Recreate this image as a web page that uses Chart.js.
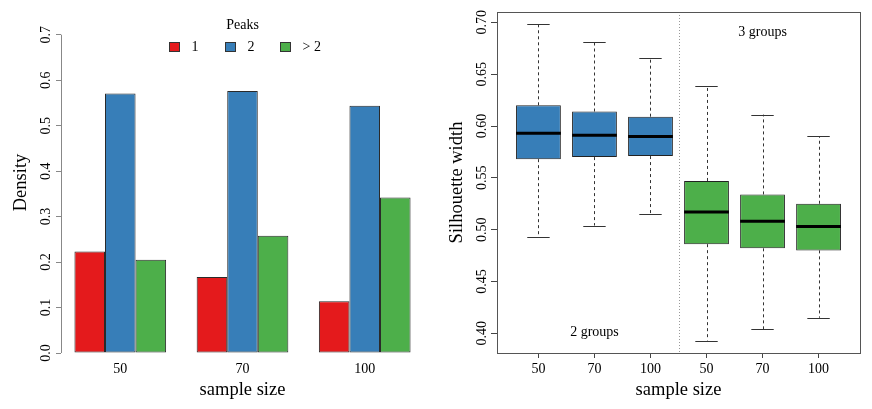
<!DOCTYPE html>
<html>
<head>
<meta charset="utf-8">
<script src="https://cdn.jsdelivr.net/npm/chart.js@4.4.1/dist/chart.umd.min.js"></script>
<style>
  body { margin: 0; background: #fff; }
  #wrap { position: relative; width: 872px; height: 409px; }
  canvas { position: absolute; top: 0; }
  #peaksChart { left: 0; }
  #silChart { left: 436px; }
</style>
</head>
<body>
<div id="wrap">
  <canvas id="peaksChart" width="436" height="409"></canvas>
  <canvas id="silChart" width="436" height="409"></canvas>
</div>
<script>
// left panel: share of curves by number of peaks
const sampleSizes = ["50", "70", "100"];
const peaksLabels = ["1", "2", "> 2"];
const peaksOne = [0.223, 0.167, 0.114];
const peaksTwo = [0.571, 0.576, 0.544];
const peaksMore = [0.205, 0.258, 0.342];
const densityTicks = [0, 0.1, 0.2, 0.3, 0.4, 0.5, 0.6, 0.7];

// right panel: silhouette width boxplots
const boxSizes = ["50", "70", "100", "50", "70", "100"];
const groupNames = ["2 groups", "3 groups"];
const whiskerLow = [0.493, 0.504, 0.515, 0.393, 0.404, 0.415];
const boxQ1 = [0.568, 0.570, 0.571, 0.486, 0.482, 0.480];
const boxMedian = [0.593, 0.591, 0.590, 0.517, 0.508, 0.503];
const boxQ3 = [0.620, 0.614, 0.609, 0.547, 0.534, 0.525];
const whiskerHigh = [0.698, 0.681, 0.666, 0.639, 0.611, 0.590];
const silTicks = [0.40, 0.45, 0.50, 0.55, 0.60, 0.65, 0.70];

const SERIF = "'Liberation Serif', 'Times New Roman', serif";
Chart.defaults.font.family = SERIF;
Chart.defaults.color = "#000";

const RED = "#E41A1C", BLUE = "#377EB8", GREEN = "#4DAF4A";

// y tick labels are written along the axis, like R does
const rotatedYTicks = {
  id: "rotatedYTicks",
  afterDraw(chart) {
    const scale = chart.scales.y;
    const ctx = chart.ctx;
    ctx.save();
    ctx.font = "14px " + SERIF;
    ctx.fillStyle = "#000";
    ctx.textAlign = "center";
    ctx.textBaseline = "middle";
    scale.ticks.forEach(t => {
      ctx.save();
      ctx.translate(scale.right - 15, scale.getPixelForValue(t.value));
      ctx.rotate(-Math.PI / 2);
      ctx.fillText(t.label, 0, 0);
      ctx.restore();
    });
    ctx.restore();
  }
};

const peaksLegend = {
  id: "peaksLegend",
  afterDraw(chart) {
    const ctx = chart.ctx;
    const area = chart.chartArea;
    const cx = (area.left + area.right) / 2;
    const y = chart.scales.y;
    ctx.save();
    // axis line only over the tick range
    ctx.strokeStyle = "#888";
    ctx.lineWidth = 1;
    ctx.beginPath();
    ctx.moveTo(Math.round(area.left) + 0.5, y.getPixelForValue(densityTicks[0]));
    ctx.lineTo(Math.round(area.left) + 0.5, y.getPixelForValue(densityTicks[densityTicks.length - 1]));
    ctx.stroke();

    ctx.font = "14px " + SERIF;
    ctx.fillStyle = "#000";
    ctx.textAlign = "center";
    ctx.textBaseline = "middle";
    ctx.fillText("Peaks", cx, 25);
    ctx.textAlign = "left";
    chart.data.datasets.forEach((ds, i) => {
      const bx = Math.round(cx - 73.5 + i * 55.5);
      ctx.fillStyle = ds.backgroundColor;
      ctx.fillRect(bx, 42, 11, 10);
      ctx.strokeStyle = "#333";
      ctx.strokeRect(bx + 0.5, 42.5, 10, 9);
      ctx.fillStyle = "#000";
      ctx.fillText(ds.label, bx + 22.5, 47);
    });
    ctx.restore();
  }
};

new Chart(document.getElementById("peaksChart"), {
  type: "bar",
  data: {
    datasets: [
      { label: peaksLabels[0], data: peaksOne.map((v, i) => ({ x: i + 1, y: v })), backgroundColor: RED },
      { label: peaksLabels[1], data: peaksTwo.map((v, i) => ({ x: i + 1, y: v })), backgroundColor: BLUE },
      { label: peaksLabels[2], data: peaksMore.map((v, i) => ({ x: i + 1, y: v })), backgroundColor: GREEN },
    ],
  },
  options: {
    responsive: false,
    animation: false,
    layout: { padding: { top: 12, right: 12, left: 0, bottom: 0 } },
    datasets: {
      bar: { borderColor: "#2a2a2a", borderWidth: 1, borderSkipped: false, categoryPercentage: 0.75, barPercentage: 1 },
    },
    plugins: { legend: { display: false }, tooltip: { enabled: false } },
    scales: {
      x: {
        type: "linear",
        offset: false,
        min: 0.515,
        max: 3.485,
        afterBuildTicks: s => { s.ticks = sampleSizes.map((_, i) => ({ value: i + 1 })); },
        afterFit: s => { s.height = 56; },
        grid: { display: false, drawTicks: false, offset: false },
        border: { display: false },
        ticks: { callback: (v, i) => sampleSizes[i], font: { size: 14 }, padding: 8, maxRotation: 0 },
        title: { display: true, text: "sample size", font: { size: 18.5 }, padding: { top: 0, bottom: 8 } },
      },
      y: {
        min: 0,
        max: 0.75,
        afterBuildTicks: s => { s.ticks = densityTicks.map(v => ({ value: v })); },
        afterFit: s => { s.width = 61; },
        grid: { drawOnChartArea: false, tickLength: 5, color: "#888" },
        border: { display: false },
        ticks: { display: false, callback: v => v.toFixed(1) },
        title: { display: true, text: "Density", font: { size: 18.5 }, padding: { top: 10, bottom: 0 } },
      },
    },
  },
  plugins: [rotatedYTicks, peaksLegend],
});

// whiskers, medians, frame and group notes for the boxplot
const boxExtras = {
  id: "boxExtras",
  beforeDatasetsDraw(chart) {
    const { ctx, chartArea: area, scales: { x, y } } = chart;
    ctx.save();
    ctx.lineWidth = 1;
    ctx.strokeStyle = "#333";
    whiskerLow.forEach((lo, i) => {
      const px = Math.round(x.getPixelForValue(i + 1)) + 0.5;
      ctx.setLineDash([3, 3]);
      ctx.beginPath();
      ctx.moveTo(px, y.getPixelForValue(boxQ3[i]));
      ctx.lineTo(px, y.getPixelForValue(whiskerHigh[i]));
      ctx.moveTo(px, y.getPixelForValue(boxQ1[i]));
      ctx.lineTo(px, y.getPixelForValue(lo));
      ctx.stroke();
      ctx.setLineDash([]);
      ctx.beginPath();
      [whiskerHigh[i], lo].forEach(v => {
        const py = Math.round(y.getPixelForValue(v)) + 0.5;
        ctx.moveTo(x.getPixelForValue(i + 0.8), py);
        ctx.lineTo(x.getPixelForValue(i + 1.2), py);
      });
      ctx.stroke();
    });
    // dotted separator between the two settings
    const sx = Math.round(x.getPixelForValue(3.5)) + 0.5;
    ctx.strokeStyle = "#999";
    ctx.setLineDash([1, 2]);
    ctx.beginPath();
    ctx.moveTo(sx, area.top);
    ctx.lineTo(sx, area.bottom);
    ctx.stroke();
    ctx.restore();
  },
  afterDatasetsDraw(chart) {
    const { ctx, chartArea: area, scales: { x, y } } = chart;
    ctx.save();
    ctx.strokeStyle = "#000";
    ctx.lineWidth = 3;
    boxMedian.forEach((m, i) => {
      const py = y.getPixelForValue(m);
      ctx.beginPath();
      ctx.moveTo(x.getPixelForValue(i + 0.6), py);
      ctx.lineTo(x.getPixelForValue(i + 1.4), py);
      ctx.stroke();
    });
    ctx.lineWidth = 1;
    ctx.strokeStyle = "#555";
    ctx.strokeRect(Math.round(area.left) + 0.5, Math.round(area.top) + 0.5,
      Math.round(area.right - area.left), Math.round(area.bottom - area.top));
    ctx.font = "14px " + SERIF;
    ctx.fillStyle = "#000";
    ctx.textAlign = "center";
    ctx.textBaseline = "middle";
    ctx.fillText(groupNames[0], x.getPixelForValue(2), y.getPixelForValue(0.401));
    ctx.fillText(groupNames[1], x.getPixelForValue(5), y.getPixelForValue(0.690));
    ctx.restore();
  }
};

const boxData = (from, to) => boxQ1.slice(from, to).map((q, k) => ({ x: from + k + 1, y: [q, boxQ3[from + k]] }));

new Chart(document.getElementById("silChart"), {
  type: "bar",
  data: {
    datasets: [
      { label: groupNames[0], data: boxData(0, 3), backgroundColor: BLUE },
      { label: groupNames[1], data: boxData(3, 6), backgroundColor: GREEN },
    ],
  },
  options: {
    responsive: false,
    animation: false,
    layout: { padding: { top: 12, right: 12, left: 0, bottom: 0 } },
    datasets: {
      bar: { grouped: false, borderColor: "#222", borderWidth: 1, borderSkipped: false, categoryPercentage: 0.8, barPercentage: 1 },
    },
    plugins: { legend: { display: false }, tooltip: { enabled: false } },
    scales: {
      x: {
        type: "linear",
        offset: false,
        min: 0.26,
        max: 6.74,
        afterBuildTicks: s => { s.ticks = boxSizes.map((_, i) => ({ value: i + 1 })); },
        afterFit: s => { s.height = 56; },
        grid: { drawOnChartArea: false, tickLength: 5, color: "#444", offset: false },
        border: { display: false },
        ticks: { callback: (v, i) => boxSizes[i], font: { size: 14 }, padding: 3, maxRotation: 0 },
        title: { display: true, text: "sample size", font: { size: 18.5 }, padding: { top: 0, bottom: 8 } },
      },
      y: {
        min: 0.381,
        max: 0.710,
        afterBuildTicks: s => { s.ticks = silTicks.map(v => ({ value: v })); },
        afterFit: s => { s.width = 61; },
        grid: { drawOnChartArea: false, tickLength: 6, color: "#444" },
        border: { display: false },
        ticks: { display: false, callback: v => v.toFixed(2) },
        title: { display: true, text: "Silhouette width", font: { size: 18.5 }, padding: { top: 10, bottom: 0 } },
      },
    },
  },
  plugins: [rotatedYTicks, boxExtras],
});
</script>
</body>
</html>
